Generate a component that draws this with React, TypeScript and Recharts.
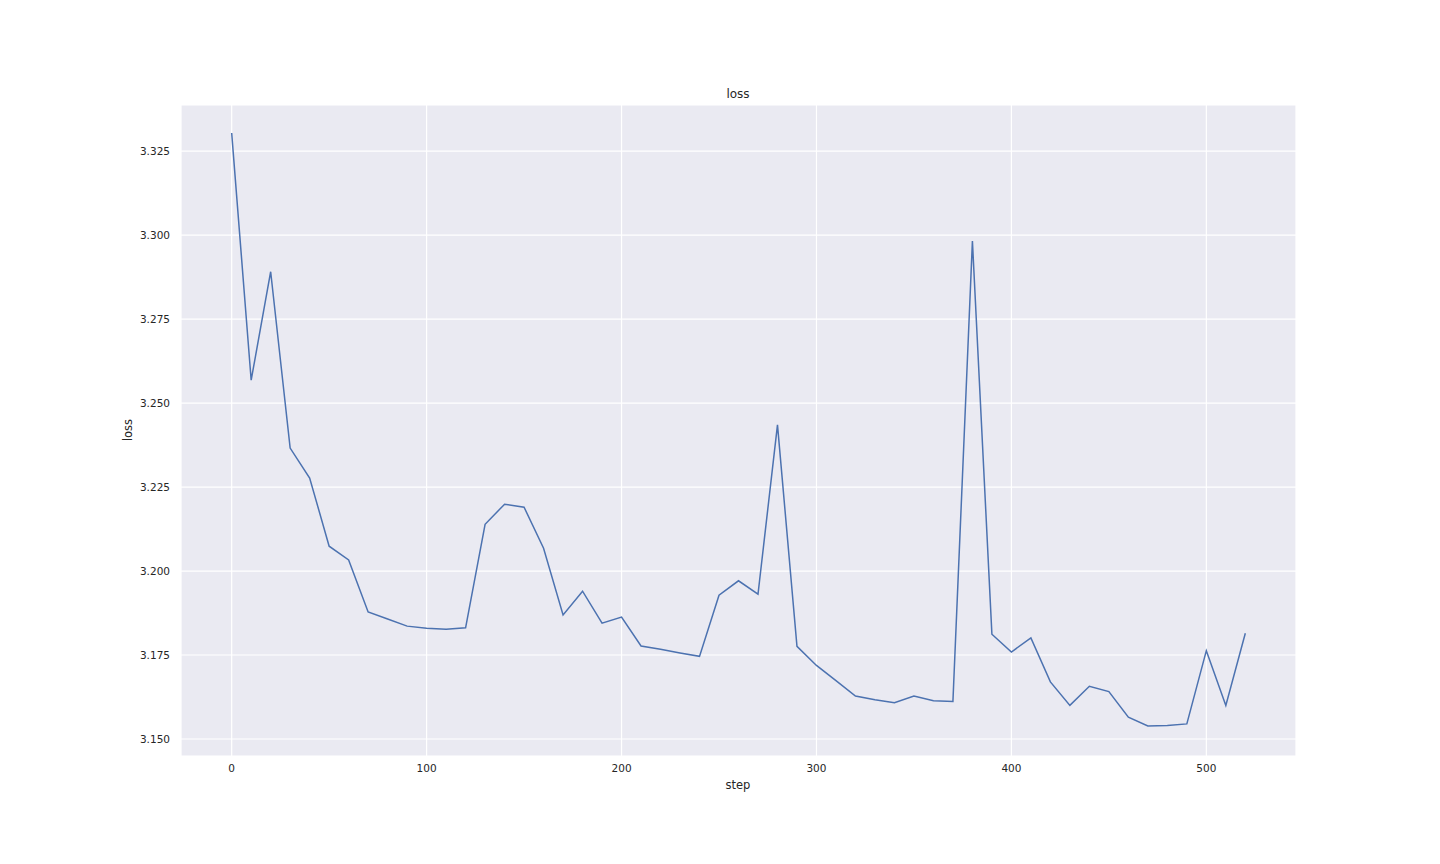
import React from 'react';
import { LineChart, Line, XAxis, YAxis, CartesianGrid } from 'recharts';

const steps = [0, 10, 20, 30, 40, 50, 60, 70, 80, 90, 100, 110, 120, 130, 140, 150, 160, 170, 180, 190, 200, 210, 220, 230, 240, 250, 260, 270, 280, 290, 300, 310, 320, 330, 340, 350, 360, 370, 380, 390, 400, 410, 420, 430, 440, 450, 460, 470, 480, 490, 500, 510, 520];
const losses = [3.3304, 3.2568, 3.2891, 3.2366, 3.2277, 3.2074, 3.2033, 3.1878, 3.1857, 3.1836, 3.1830, 3.1827, 3.1831, 3.2139, 3.2199, 3.2190, 3.2068, 3.1869, 3.1940, 3.1845, 3.1863, 3.1777, 3.1767, 3.1756, 3.1746, 3.1928, 3.1971, 3.1931, 3.2435, 3.1776, 3.1719, 3.1674, 3.1628, 3.1617, 3.1608, 3.1628, 3.1614, 3.1612, 3.2982, 3.1812, 3.1759, 3.1801, 3.1670, 3.1600, 3.1657, 3.1641, 3.1565, 3.1539, 3.1540, 3.1545, 3.1763, 3.1600, 3.1815];
const xTicks = [0, 100, 200, 300, 400, 500];
const yTicks = [3.15, 3.175, 3.2, 3.225, 3.25, 3.275, 3.3, 3.325];

const data = steps.map((s, i) => ({ step: s, loss: losses[i] }));

const font = 'DejaVu Sans, sans-serif';
const textColor = '#262626';

export default function App() {
  return (
    <div style={{ position: 'absolute', left: 0, top: 0, width: 1440, height: 864, background: '#fff', fontFamily: font }}>
      <LineChart width={1440} height={864} data={data} margin={{ top: 105, right: 144, bottom: 68, left: 101 }}>
        <CartesianGrid fill="#EAEAF2" stroke="#ffffff" strokeWidth={1.2} />
        <XAxis
          dataKey="step"
          type="number"
          domain={[-26, 546]}
          ticks={xTicks}
          axisLine={false}
          tickLine={false}
          tickSize={0}
          tickMargin={9}
          height={40}
          tick={{ fill: textColor, fontSize: 10.5, fontFamily: font }}
        />
        <YAxis
          type="number"
          domain={[3.14494, 3.33873]}
          ticks={yTicks}
          axisLine={false}
          tickLine={false}
          tickSize={0}
          tickMargin={11}
          width={80}
          tickFormatter={(v: number) => v.toFixed(3)}
          tick={{ fill: textColor, fontSize: 10.5, fontFamily: font }}
        />
        <Line dataKey="loss" type="linear" stroke="#4C72B0" strokeWidth={1.5} dot={false} isAnimationActive={false} />
      </LineChart>
      <div style={{ position: 'absolute', left: 638, width: 200, top: 86, textAlign: 'center', fontSize: 12, color: textColor, lineHeight: '16px' }}>loss</div>
      <div style={{ position: 'absolute', left: 638, width: 200, top: 777, textAlign: 'center', fontSize: 11.5, color: textColor, lineHeight: '16px' }}>step</div>
      <div style={{ position: 'absolute', left: 28, width: 200, top: 422, textAlign: 'center', fontSize: 11.5, color: textColor, lineHeight: '16px', transform: 'rotate(-90deg)' }}>loss</div>
    </div>
  );
}
